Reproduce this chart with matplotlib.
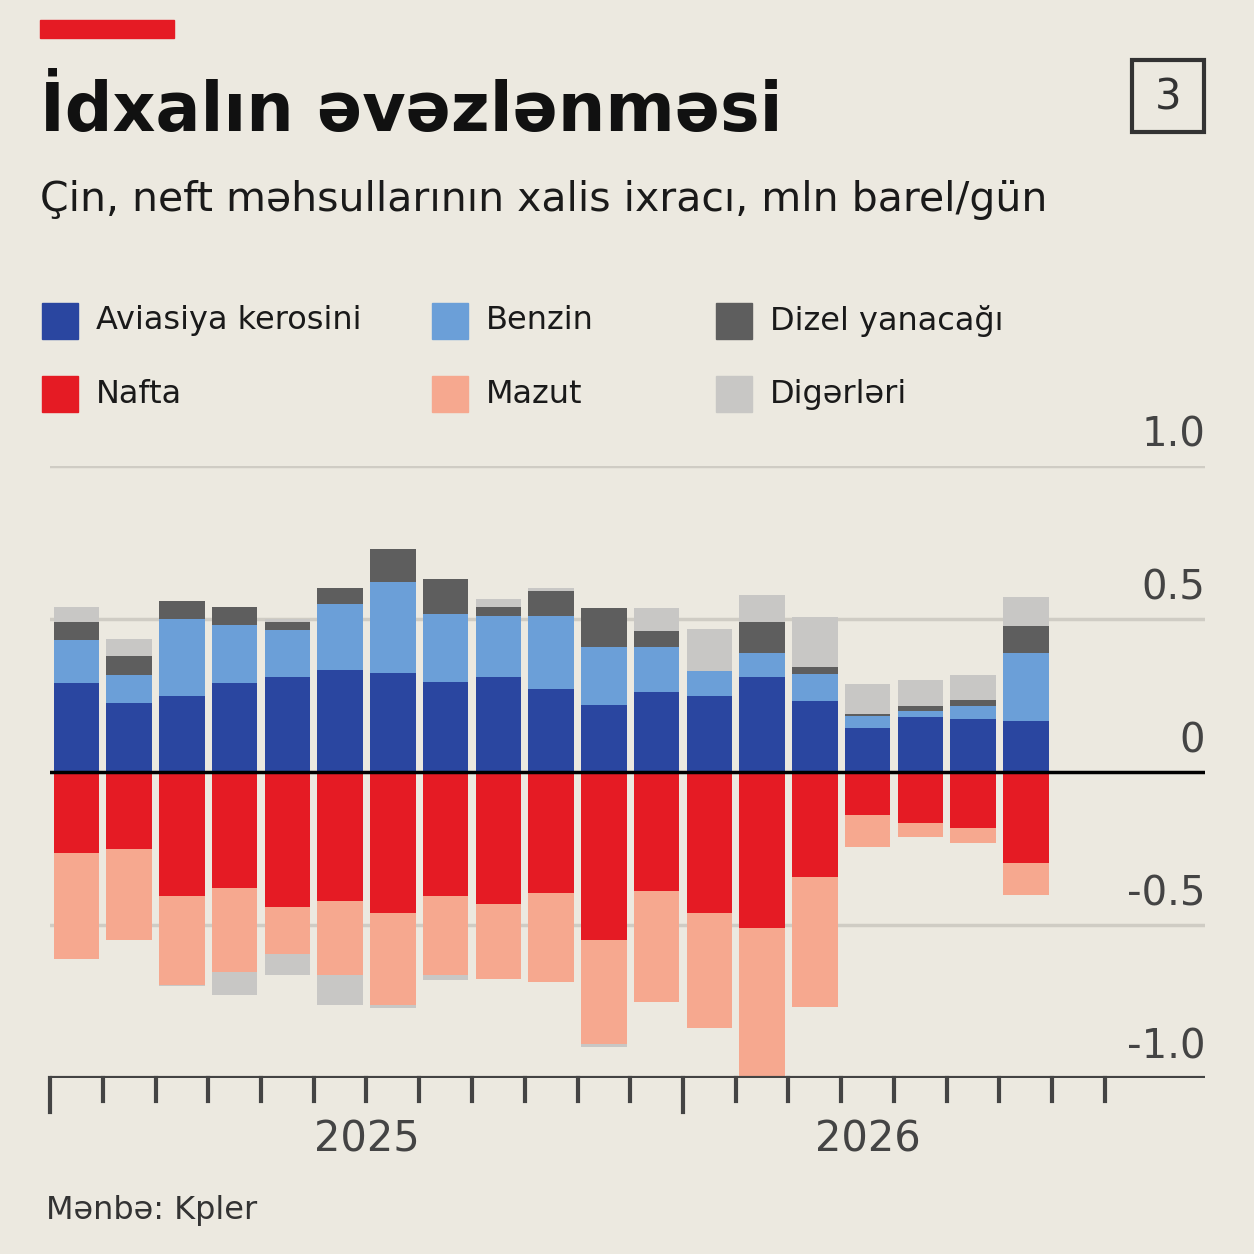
import numpy as np
import matplotlib
matplotlib.use("Agg")
import matplotlib.pyplot as plt
from matplotlib.patches import Rectangle

# cumulative tops (mln barrels/day), one value per month Jan 2025 .. Jul 2026
avia_top   = [0.29, 0.225, 0.25, 0.29, 0.31, 0.333, 0.324, 0.294, 0.31, 0.27, 0.22, 0.26, 0.25, 0.31, 0.232, 0.144, 0.18, 0.173, 0.167]
benzin_top = [0.43, 0.317, 0.50, 0.48, 0.465, 0.55, 0.62, 0.516, 0.51, 0.51, 0.41, 0.41, 0.33, 0.39, 0.32, 0.183, 0.20, 0.216, 0.39]
dizel_top  = [0.49, 0.38, 0.56, 0.54, 0.49, 0.60, 0.73, 0.63, 0.54, 0.59, 0.535, 0.46, 0.33, 0.49, 0.343, 0.19, 0.216, 0.235, 0.477]
other_top  = [0.54, 0.435, 0.56, 0.54, 0.50, 0.60, 0.73, 0.63, 0.565, 0.60, 0.535, 0.535, 0.467, 0.58, 0.507, 0.288, 0.30, 0.317, 0.572]
nafta_bot  = [-0.265, -0.25, -0.405, -0.38, -0.44, -0.42, -0.46, -0.405, -0.43, -0.395, -0.55, -0.39, -0.46, -0.51, -0.343, -0.14, -0.167, -0.183, -0.297]
mazut_bot  = [-0.61, -0.55, -0.695, -0.655, -0.595, -0.665, -0.76, -0.665, -0.675, -0.685, -0.89, -0.75, -0.835, -0.995, -0.768, -0.245, -0.212, -0.232, -0.402]
oth_bot    = [-0.61, -0.55, -0.70, -0.73, -0.665, -0.76, -0.77, -0.68, -0.675, -0.685, -0.90, -0.75, -0.835, -0.995, -0.768, -0.245, -0.212, -0.232, -0.402]

names = ["Aviasiya kerosini", "Benzin", "Dizel yanacağı", "Nafta", "Mazut", "Digərləri"]
colors = ["#2a46a0", "#6b9fd8", "#5e5e5e", "#e51b24", "#f6a88f", "#c8c7c5"]
bg = "#ece9e0"

W = H = 1254
fig = plt.figure(figsize=(12.54, 12.54), dpi=100, facecolor=bg)
def fx(px): return px / W
def fy(py): return 1 - py / H

ax = fig.add_axes([fx(50), fy(1078), fx(1205) - fx(50), fy(466) - fy(1078)], facecolor=bg)
x = np.arange(len(avia_top))
w = 0.86
lev = [np.zeros(len(x)), np.array(avia_top), np.array(benzin_top), np.array(dizel_top), np.array(other_top)]
pos_col = [colors[0], colors[1], colors[2], colors[5]]
for i in range(4):
    ax.bar(x, lev[i + 1] - lev[i], bottom=lev[i], width=w, color=pos_col[i], zorder=3)
nlev = [np.zeros(len(x)), np.array(nafta_bot), np.array(mazut_bot), np.array(oth_bot)]
neg_col = [colors[3], colors[4], colors[5]]
for i in range(3):
    ax.bar(x, nlev[i + 1] - nlev[i], bottom=nlev[i], width=w, color=neg_col[i], zorder=3, clip_on=False)

ax.set_xlim(-0.5, -0.5 + 1155 / 52.75)
ax.set_ylim(-1, 1)
for s in ax.spines.values():
    s.set_visible(False)
ax.set_xticks([]); ax.set_yticks([])
for v in [1.0, 0.5, -0.5]:
    ax.axhline(v, color="#cfccc4", lw=2.5, zorder=1)
ax.axhline(0, color="black", lw=2.5, zorder=4)
ax.axhline(-1, color="#444444", lw=3, zorder=4)
ylabels = {1.0: "1.0", 0.5: "0.5", 0: "0", -0.5: "-0.5", -1.0: "-1.0"}
for v, t in ylabels.items():
    ax.text(21.4, v + 0.035, t, ha="right", va="bottom", fontsize=29, color="#444444")

# month ticks
for k in range(21):
    major = k in (0, 12)
    ax.plot([k - 0.5, k - 0.5], [-1, -1.11 if major else -1.075], color="#444444", lw=3, clip_on=False)
ax.text(5.5, -1.2, "2025", ha="center", va="center", fontsize=30, color="#444444")
ax.text(15.0, -1.2, "2026", ha="center", va="center", fontsize=30, color="#444444")

# header
fig.patches.append(Rectangle((fx(40), fy(38)), fx(134), fy(20) - fy(38), transform=fig.transFigure, color="#e51b24"))
fig.text(fx(40), fy(112), "İdxalın əvəzlənməsi", fontsize=48, fontweight="bold", va="center", color="#111111")
fig.text(fx(40), fy(200), "Çin, neft məhsullarının xalis ixracı, mln barel/gün", fontsize=29.5, va="center", color="#1a1a1a")
fig.patches.append(Rectangle((fx(1132), fy(132)), fx(72), fy(60) - fy(132), transform=fig.transFigure,
                             fill=False, ec="#333333", lw=3))
fig.text(fx(1168), fy(97), "3", fontsize=30, ha="center", va="center", color="#333333")

# legend
lx = [42, 432, 716]
ly = [321, 394]
for i, n in enumerate(names):
    px, py = lx[i % 3], ly[i // 3]
    fig.patches.append(Rectangle((fx(px), fy(py + 18)), fx(36), fy(py - 18) - fy(py + 18),
                                 transform=fig.transFigure, color=colors[i]))
    fig.text(fx(px + 54), fy(py), n, fontsize=23, va="center", color="#1a1a1a")

fig.text(fx(46), fy(1210), "Mənbə: Kpler", fontsize=23, va="center", color="#333333")
fig.savefig("out.png", dpi=100, facecolor=bg)
